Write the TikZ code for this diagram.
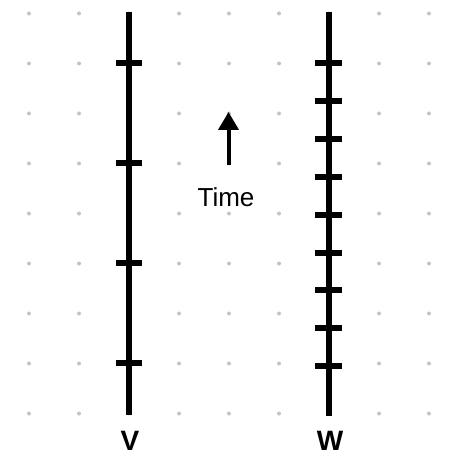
\documentclass[tikz,border=0pt]{standalone}
\usepackage{fontspec}
\setmainfont{Liberation Sans}
\usetikzlibrary{arrows.meta}
\definecolor{gridgrey}{HTML}{C4C4C4}
\tikzset{
  griddot/.style={fill=gridgrey, draw=none},
  timeline/.style={line width=6pt, black},
  tickmark/.style={line width=6pt, black},
  lbl/.style={font=\fontsize{28}{28}\selectfont\bfseries, inner sep=0pt},
  timelbl/.style={font=\fontsize{26}{26}\selectfont, inner sep=0pt},
}
\begin{document}
\begin{tikzpicture}[x=1pt,y=-1pt]
\useasboundingbox (0,0) rectangle (460,462);
\fill[white] (0,0) rectangle (460,462);
% dot grid
\foreach \i in {0,...,8}{
  \foreach \j in {0,...,8}{
    \fill[griddot] (29+50*\i,13.5+50*\j) circle (2pt);
  }
}
% V line
\coordinate (vtop) at (129,12);
\coordinate (vbot) at (129,415);
\draw[timeline] (vtop) -- (vbot);
\foreach \y in {63,163,263,363}{
  \draw[tickmark] (116,\y) -- (142,\y);
}
% W line
\coordinate (wtop) at (329,12);
\coordinate (wbot) at (329,416);
\draw[timeline] (wtop) -- (wbot);
\foreach \k in {0,...,8}{
  \draw[tickmark] (315,63.5+37.8*\k) -- (342,63.5+37.8*\k);
}
% arrow
\coordinate (atail) at (228.5,165);
\coordinate (ahead) at (228.5,112);
\draw[line width=4pt,-{Triangle[width=20pt,length=18pt]}] (atail) -- (ahead);
\node[timelbl] (time) at (226,197) {Time};
\node[lbl] (vl) at (130,441) {V};
\node[lbl] (wl) at (330,441) {W};
\end{tikzpicture}
\end{document}
